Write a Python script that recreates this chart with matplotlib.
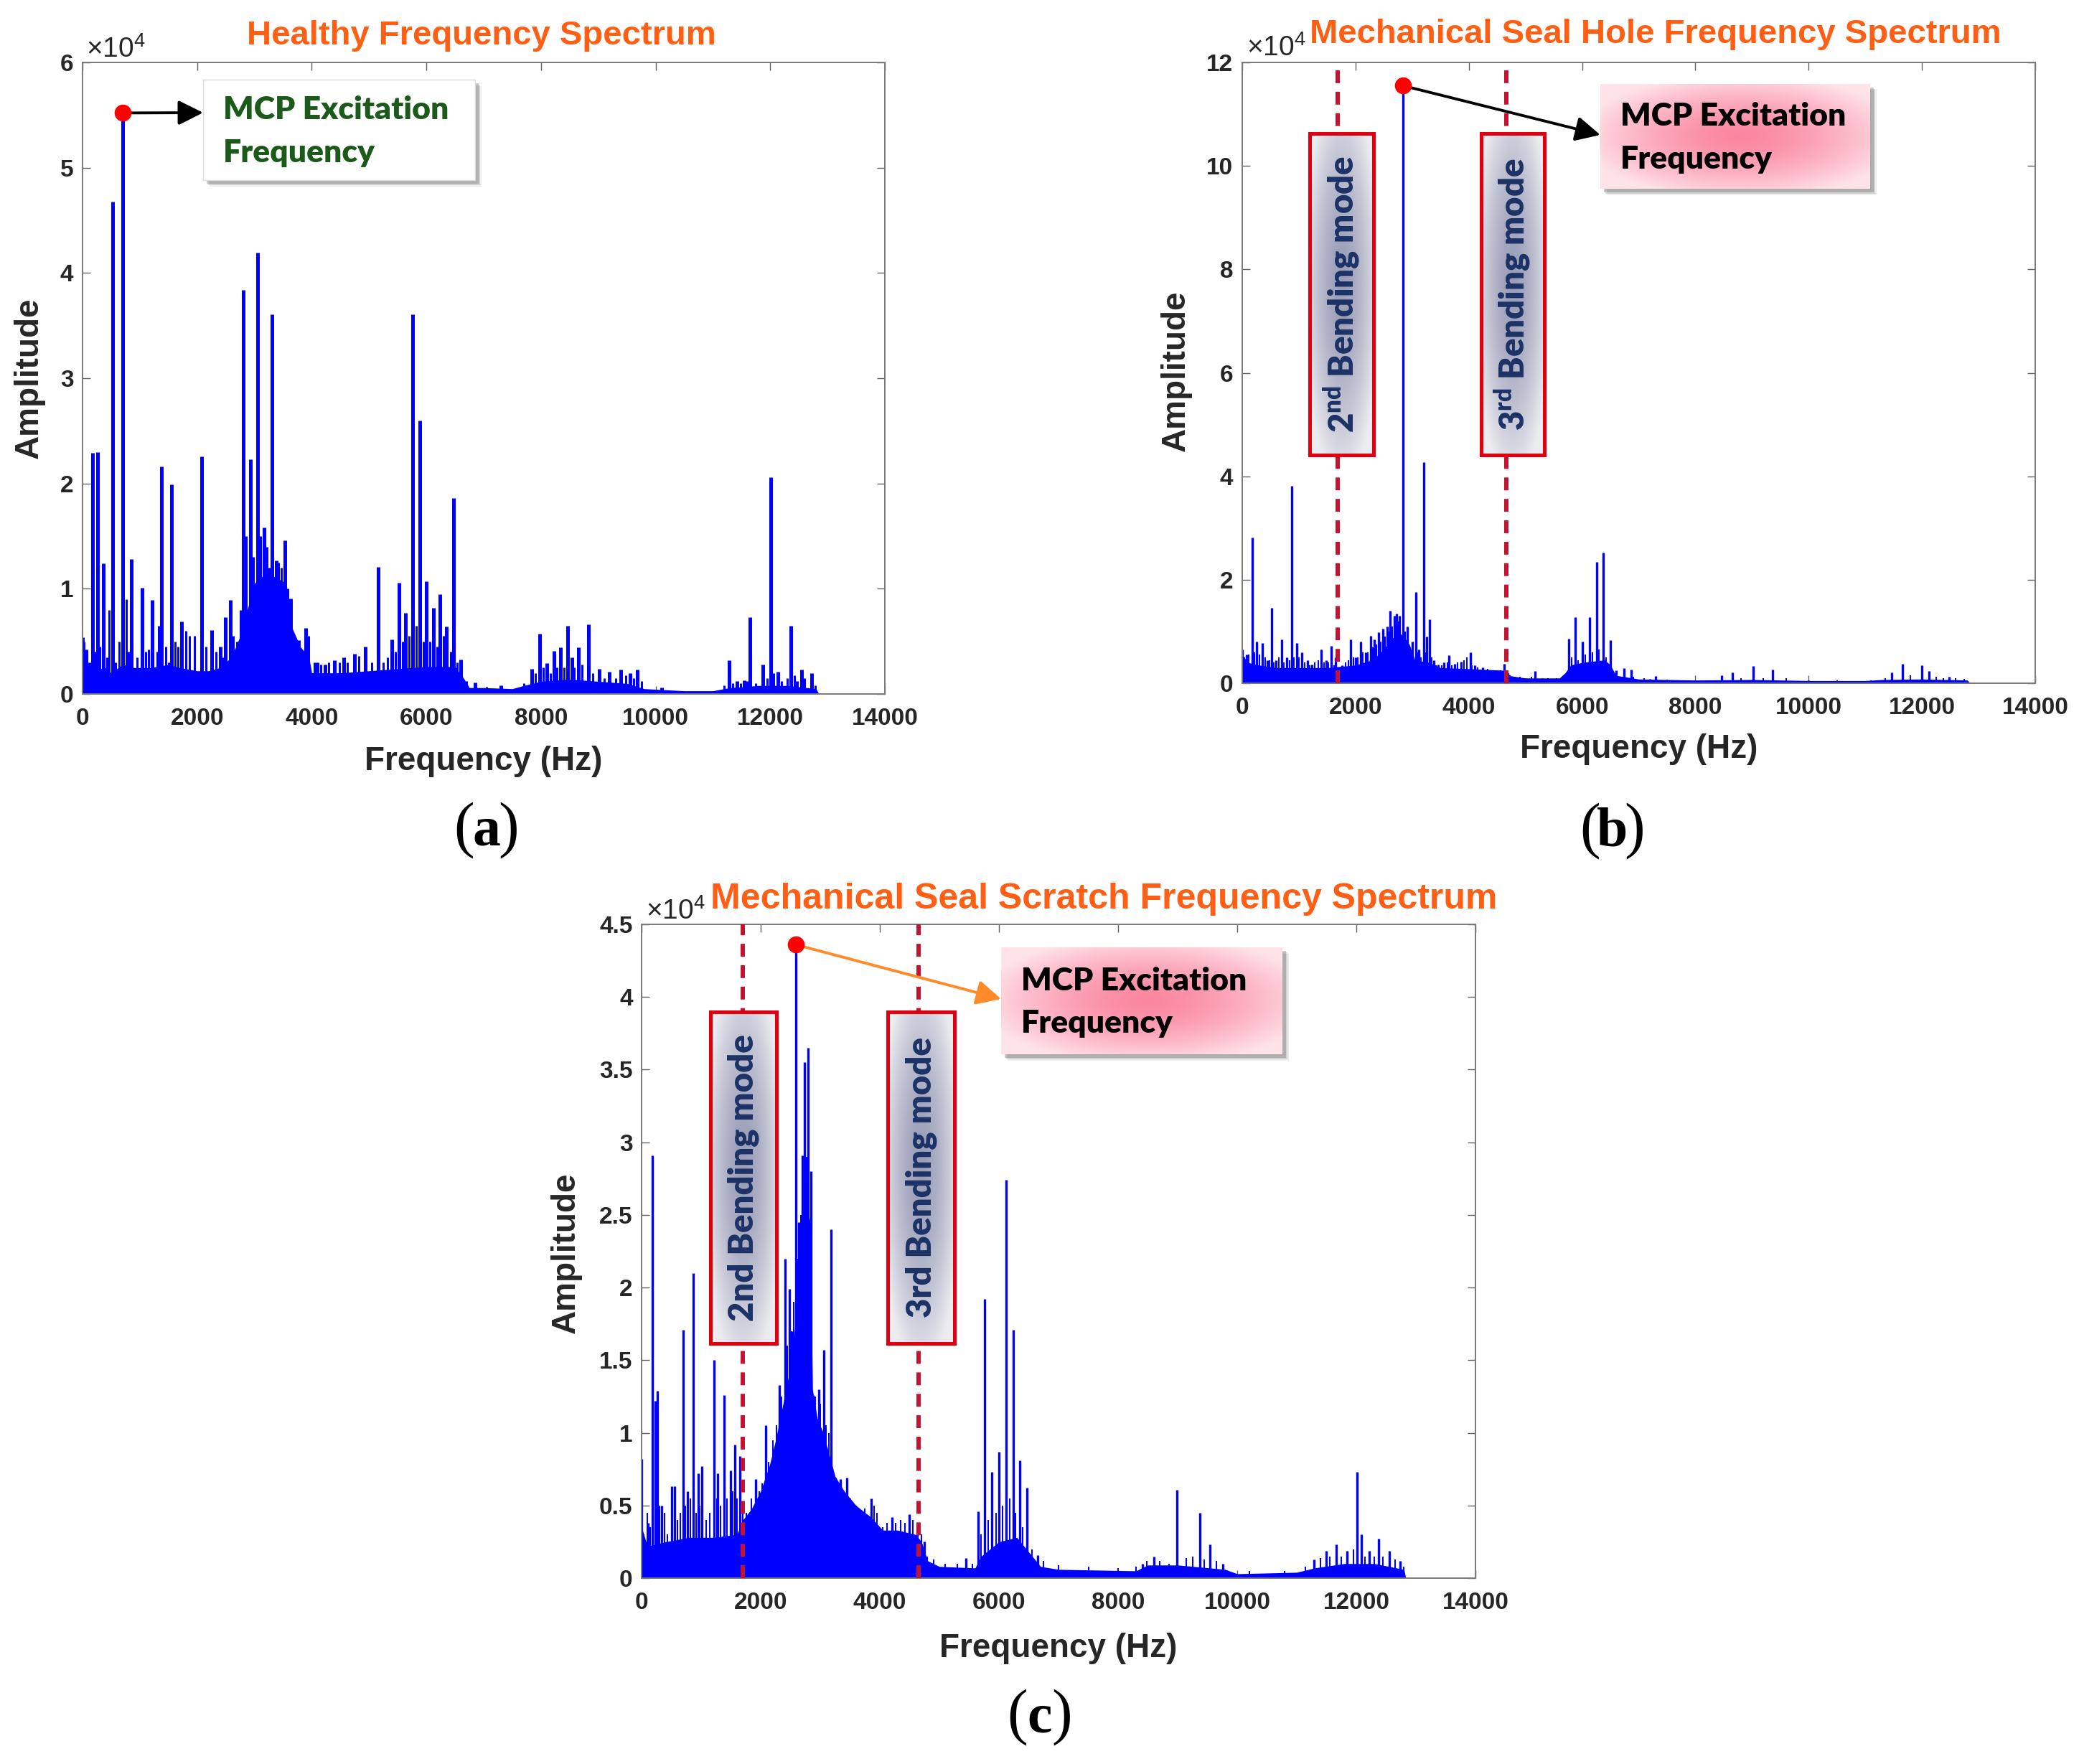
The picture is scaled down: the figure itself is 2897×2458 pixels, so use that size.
import numpy as np
import matplotlib
matplotlib.use("Agg")
import matplotlib.pyplot as plt
from matplotlib.patches import Rectangle

plt.rcParams['mathtext.fontset'] = 'custom'
plt.rcParams['mathtext.rm'] = 'Liberation Sans'
plt.rcParams['mathtext.bf'] = 'Lato:heavy'

# ---------------- data (amplitudes in units of 1e4) ----------------
x_ticks = [0, 2000, 4000, 6000, 8000, 10000, 12000, 14000]
x_tick_labels = ["0", "2000", "4000", "6000", "8000", "10000", "12000", "14000"]

a_yticks = [0, 1, 2, 3, 4, 5, 6]
a_ytick_labels = ["0", "1", "2", "3", "4", "5", "6"]
b_yticks = [0, 2, 4, 6, 8, 10, 12]
b_ytick_labels = ["0", "2", "4", "6", "8", "10", "12"]
c_yticks = [0, 0.5, 1, 1.5, 2, 2.5, 3, 3.5, 4, 4.5]
c_ytick_labels = ["0", "0.5", "1", "1.5", "2", "2.5", "3", "3.5", "4", "4.5"]

titles = ["Healthy Frequency Spectrum",
          "Mechanical Seal Hole Frequency Spectrum",
          "Mechanical Seal Scratch Frequency Spectrum"]
panel_letters = ["a", "b", "c"]
x_label = "Frequency (Hz)"
y_label = "Amplitude"
mcp_lines = ["MCP Excitation", "Frequency"]
b_bend_labels = [r"$\mathbf{2^{nd}}$ Bending mode", r"$\mathbf{3^{rd}}$ Bending mode"]
c_bend_labels = ["2nd Bending mode", "3rd Bending mode"]

# --- panel (a): healthy ---
a_peak_f = [0, 60, 177, 260, 363, 520, 696, 852, 1038, 1215, 1381, 1558, 1734, 2077, 2253, 2409,
            2492, 2575, 2700, 2804, 2928, 3053, 3167, 3302, 3375, 3531, 3634, 3770, 3894, 4100,
            4230, 4400, 4560, 4740, 4933, 5161, 5400, 5524, 5639, 5763, 5888, 6002, 6127, 6241,
            6355, 6480, 6604, 6854, 7300, 7840, 7975, 8100, 8224, 8339, 8463, 8536, 8650, 8826,
            9013, 9190, 9398, 9560, 9678, 10100, 11288, 11420, 11540, 11640, 11869, 12004, 12129,
            12357, 12460, 12544, 12721]
a_peak_a = [0.54, 0.42, 2.29, 2.30, 1.24, 4.68, 5.52, 1.28, 1.01, 0.89, 2.16, 1.99, 0.69, 2.26, 0.61, 0.45,
            0.73, 0.89, 0.50, 3.84, 2.23, 4.19, 1.58, 3.61, 1.27, 1.46, 0.91, 0.51, 0.63, 0.30,
            0.28, 0.32, 0.35, 0.38, 0.45, 1.21, 0.52, 1.06, 0.77, 3.61, 2.60, 1.07, 0.82, 0.95,
            0.64, 1.86, 0.33, 0.11, 0.08, 0.24, 0.57, 0.29, 0.41, 0.44, 0.65, 0.35, 0.44, 0.66,
            0.24, 0.21, 0.23, 0.20, 0.23, 0.06, 0.32, 0.12, 0.13, 0.73, 0.28, 2.06, 0.21,
            0.65, 0.12, 0.23, 0.20]
a_minor_f = [30, 120, 220, 300, 420, 460, 580, 640, 760, 800, 950, 1100, 1150, 1300, 1330, 1450, 1500,
             1620, 1660, 1800, 1860, 1950, 2150, 2330, 2450, 2630, 2760, 2860, 2980, 3100, 3220, 3260,
             3420, 3470, 3580, 3700, 3830, 3950, 4050, 4160, 4300, 4480, 4620, 4820, 5050, 5250, 5320,
             5460, 5580, 5700, 5820, 5950, 6060, 6180, 6300, 6420, 6540, 6700, 7050, 7700, 7900, 8040,
             8160, 8280, 8400, 8580, 8720, 8900, 9100, 9300, 9480, 9620, 9750, 11200, 11350, 11480,
             11600, 11750, 11950, 12060, 12200, 12300, 12420, 12600, 12780]
a_minor_a = [0.50, 0.30, 0.40, 0.45, 0.35, 0.80, 0.30, 0.50, 0.90, 0.40, 0.35, 0.40, 0.42, 0.40, 0.65, 0.45, 0.30,
             0.50, 0.45, 0.60, 0.55, 0.55, 0.45, 0.40, 0.35, 0.55, 0.80, 1.50, 1.30, 1.50, 1.40, 1.20,
             1.25, 1.20, 1.00, 0.45, 0.35, 0.55, 0.30, 0.28, 0.30, 0.30, 0.30, 0.36, 0.30, 0.30, 0.35,
             0.40, 0.50, 0.55, 0.65, 0.50, 0.50, 0.45, 0.55, 0.40, 0.30, 0.12, 0.07, 0.10, 0.20, 0.25,
             0.20, 0.25, 0.25, 0.25, 0.28, 0.20, 0.15, 0.15, 0.18, 0.15, 0.12, 0.08, 0.10, 0.10,
             0.12, 0.10, 0.15, 0.20, 0.12, 0.15, 0.18, 0.15, 0.08]
a_floor_f = [0, 100, 150, 400, 500, 700, 900, 1200, 1500, 1700, 2000, 2200, 2400, 2600, 2750, 2900,
             3000, 3200, 3400, 3550, 3600, 3800, 3950, 4000, 4500, 5000, 5500, 6000, 6500, 6650, 6750,
             7000, 7500, 7700, 8000, 8500, 9000, 9500, 9800, 10500, 11000, 11300, 11800, 12300, 12800, 12850]
a_floor_a = [0.45, 0.30, 0.22, 0.25, 0.20, 0.28, 0.25, 0.25, 0.28, 0.25, 0.22, 0.22, 0.25, 0.35, 0.55, 0.85,
             1.05, 1.15, 1.10, 1.05, 0.70, 0.45, 0.35, 0.20, 0.20, 0.22, 0.24, 0.26, 0.26, 0.15, 0.06,
             0.06, 0.05, 0.08, 0.12, 0.14, 0.12, 0.10, 0.05, 0.03, 0.03, 0.06, 0.08, 0.08, 0.05, 0.0]
a_exc = (696, 5.52)

# --- panel (b): seal hole ---
b_peak_f = [0, 80, 174, 250, 360, 440, 523, 600, 697, 790, 871, 959, 1046, 1150, 1231, 1394, 1480, 1568,
            1650, 1760, 1917, 2000, 2092, 2180, 2266, 2330, 2407, 2484, 2560, 2614, 2680, 2723, 2780,
            2840, 2919, 3000, 3070, 3120, 3200, 3250, 3310, 3380, 3464, 3560, 3650, 3750, 3860, 4030,
            4100, 4250, 4400, 4620, 4800, 5000, 5170, 5300, 5770, 5885, 6010, 6130, 6255, 6370, 6495,
            6600, 6740, 6864, 7200, 7300, 8000, 8460, 8650, 9020, 9368, 10000, 11470, 11655, 11993,
            12124, 12484]
b_peak_a = [0.65, 0.55, 2.81, 0.80, 0.77, 0.45, 1.45, 0.45, 0.85, 0.50, 3.81, 0.77, 0.60, 0.45, 0.36, 0.65, 0.45, 0.72,
            0.50, 0.35, 0.85, 0.50, 0.80, 0.60, 0.92, 0.85, 0.99, 1.06, 1.10, 1.40, 1.30, 1.34, 1.30,
            11.55, 1.09, 0.80, 1.76, 0.65, 4.27, 0.90, 1.23, 0.45, 0.36, 0.40, 0.54, 0.38, 0.42, 0.60,
            0.35, 0.30, 0.25, 0.37, 0.12, 0.10, 0.23, 0.10, 0.86, 1.27, 0.81, 1.27, 2.34, 2.53, 0.83,
            0.25, 0.29, 0.26, 0.08, 0.14, 0.06, 0.15, 0.21, 0.33, 0.26, 0.05, 0.21, 0.37, 0.34,
            0.24, 0.12]
b_minor_f = [40, 120, 210, 300, 400, 480, 560, 640, 740, 830, 910, 1000, 1100, 1190, 1280, 1340, 1440,
             1520, 1620, 1700, 1820, 1870, 1960, 2040, 2130, 2220, 2300, 2370, 2440, 2520, 2590, 2650,
             2750, 2880, 2960, 3090, 3150, 3230, 3350, 3420, 3520, 3620, 3700, 3800, 3920, 3960, 4060,
             4160, 4330, 4480, 4560, 4700, 4900, 5100, 5400, 5550, 5680, 5820, 5930, 6060, 6180, 6300,
             6420, 6550, 6900, 7100, 7500, 8200, 8800, 9200, 9600, 10500, 11100, 11350, 11800, 12250,
             12380, 12600, 12750]
b_minor_a = [0.50, 0.55, 0.60, 0.55, 0.50, 0.45, 0.40, 0.50, 0.40, 0.45, 0.50, 0.50, 0.40, 0.35, 0.40, 0.45, 0.40,
             0.40, 0.35, 0.30, 0.40, 0.45, 0.50, 0.50, 0.60, 0.60, 0.70, 0.75, 0.80, 0.90, 1.00, 1.10,
             1.20, 1.00, 0.70, 0.60, 0.50, 0.60, 0.50, 0.35, 0.35, 0.40, 0.35, 0.40, 0.45, 0.50, 0.35,
             0.30, 0.28, 0.25, 0.25, 0.20, 0.12, 0.12, 0.10, 0.10, 0.12, 0.50, 0.45, 0.55, 0.60, 0.65,
             0.50, 0.20, 0.12, 0.10, 0.07, 0.06, 0.10, 0.10, 0.10, 0.05, 0.06, 0.10, 0.15, 0.12,
             0.10, 0.10, 0.08]
b_floor_f = [0, 100, 300, 600, 1000, 1500, 2000, 2300, 2450, 2600, 2750, 2850, 2950, 3050, 3300, 3500,
             4000, 4600, 4750, 5000, 5600, 5700, 5800, 6000, 6400, 6500, 6600, 7000, 8000, 9000,
             10000, 11000, 11300, 12000, 12800, 12850]
b_floor_a = [0.55, 0.40, 0.35, 0.30, 0.30, 0.30, 0.35, 0.45, 0.60, 0.80, 1.00, 0.90, 0.75, 0.45, 0.40, 0.30,
             0.28, 0.25, 0.14, 0.10, 0.10, 0.20, 0.35, 0.40, 0.45, 0.35, 0.15, 0.08, 0.06, 0.07,
             0.05, 0.05, 0.07, 0.08, 0.06, 0.0]
b_exc = (2840, 11.55)
b_bend_f = [1685, 4662]

# --- panel (c): seal scratch ---
c_peak_f = [0, 65, 108, 183, 226, 269, 334, 500, 549, 700, 775, 870, 950, 1018, 1217, 1280, 1385, 1490,
            1563, 1648, 1910, 2083, 2308, 2415, 2478, 2540, 2590, 2638, 2698, 2740, 2797, 2844,
            2885, 2972, 3065, 3185, 3251, 3338, 3448, 3669, 3850, 4200, 4490, 4630, 4745, 5450,
            5645, 5760, 5885, 6000, 6120, 6236, 6352, 6475, 6650, 8410, 8600, 8990, 9369, 9541, 9757,
            11286, 11490, 11663, 11846, 12018, 12083, 12212, 12373, 12556, 12739]
c_peak_a = [0.82, 0.23, 0.38, 2.91, 1.22, 1.29, 0.50, 0.63, 0.63, 1.71, 0.60, 2.10, 0.72, 0.77, 1.50, 0.72, 1.26, 0.74,
            0.92, 0.84, 0.68, 1.05, 1.33, 2.20, 1.99, 1.70, 4.36, 2.45, 2.91, 3.55, 3.65, 2.80,
            1.26, 1.30, 1.57, 2.40, 0.69, 0.68, 0.69, 0.45, 0.55, 0.42, 0.44, 0.36, 0.25, 0.14,
            0.46, 1.92, 0.73, 0.87, 2.74, 1.71, 0.81, 0.62, 0.16, 0.10, 0.15, 0.61, 0.45, 0.23, 0.10,
            0.13, 0.19, 0.23, 0.19, 0.73, 0.30, 0.19, 0.27, 0.19, 0.12]
c_minor_f = [40, 100, 140, 300, 380, 430, 600, 650, 740, 820, 910, 980, 1080, 1150, 1260, 1330, 1430, 1530,
             1600, 1700, 1760, 1840, 1980, 2030, 2130, 2200, 2260, 2350, 2450, 2520, 2560, 2620, 2680,
             2720, 2770, 2820, 2860, 2920, 3000, 3100, 3140, 3220, 3300, 3400, 3500, 3560, 3600, 3750,
             3900, 3950, 4050, 4120, 4260, 4350, 4420, 4560, 4700, 4800, 4900, 5100, 5300, 5550, 5700,
             5820, 5950, 6060, 6180, 6280, 6400, 6550, 6750, 7000, 7500, 8000, 8300, 8480, 8700, 8850,
             9150, 9250, 9450, 9650, 10200, 10800, 11150, 11400, 11550, 11750, 11950, 12150, 12300,
             12450, 12650, 12800]
c_minor_a = [0.30, 0.45, 0.35, 0.50, 0.45, 0.30, 0.40, 0.45, 0.50, 0.55, 0.45, 0.50, 0.40, 0.45, 0.55, 0.50, 0.55, 0.60,
             0.55, 0.45, 0.45, 0.55, 0.60, 0.65, 0.80, 0.95, 1.05, 1.25, 1.60, 1.70, 1.90, 2.20, 2.50,
             2.70, 2.90, 2.40, 2.00, 1.25, 1.20, 1.05, 1.00, 0.70, 0.65, 0.60, 0.55, 0.50, 0.50, 0.48,
             0.50, 0.45, 0.35, 0.38, 0.38, 0.40, 0.38, 0.40, 0.30, 0.15, 0.13, 0.10, 0.10, 0.10, 0.30,
             0.40, 0.45, 0.50, 0.55, 0.45, 0.35, 0.20, 0.12, 0.09, 0.08, 0.07, 0.08, 0.12, 0.12, 0.10,
             0.14, 0.15, 0.13, 0.12, 0.05, 0.05, 0.08, 0.14, 0.15, 0.15, 0.20, 0.15, 0.15,
             0.15, 0.13, 0.08]
c_floor_f = [0, 100, 400, 800, 1200, 1600, 1700, 1850, 2000, 2150, 2250, 2350, 2450, 2550, 2620, 2700,
             2780, 2830, 2870, 2950, 3050, 3150, 3250, 3400, 3600, 3850, 4050, 4300, 4600, 4700, 4800,
             5000, 5600, 5700, 6000, 6300, 6500, 6700, 7000, 8300, 8500, 9000, 9800, 10000, 11000,
             11300, 11800, 12300, 12800, 12830]
c_floor_a = [0.35, 0.22, 0.25, 0.28, 0.28, 0.30, 0.40, 0.48, 0.60, 0.78, 0.95, 1.15, 1.35, 1.60, 2.00, 2.35,
             2.55, 2.45, 1.30, 1.10, 1.00, 0.85, 0.70, 0.60, 0.50, 0.42, 0.33, 0.33, 0.30, 0.25, 0.12,
             0.08, 0.07, 0.15, 0.25, 0.28, 0.18, 0.08, 0.06, 0.05, 0.09, 0.09, 0.06, 0.03, 0.04,
             0.07, 0.10, 0.10, 0.06, 0.0]
c_exc = (2590, 4.36)
c_bend_f = [1699, 4650]

# ---------------- layout / style ----------------
W, H = 2897, 2458
BLUE = '#0000FF'
ORANGE_T = '#FF5F15'
DARK = '#262626'
SANS = 'Liberation Sans'


def px_rect(x0, y0, x1, y1):
    return [x0 / W, 1 - y1 / H, (x1 - x0) / W, (y1 - y0) / H]


def fxy(x, y):
    return (x / W, 1 - y / H)


fig = plt.figure(figsize=(W / 100, H / 100), dpi=100)
fig.patch.set_facecolor('white')


def setup_axes(rect, ymax, yticks, ylabels):
    ax = fig.add_axes(px_rect(*rect))
    ax.set_xlim(0, 14000)
    ax.set_ylim(0, ymax)
    ax.set_xticks(x_ticks)
    ax.set_xticklabels(x_tick_labels)
    ax.set_yticks(yticks)
    ax.set_yticklabels(ylabels)
    ax.tick_params(direction='in', top=True, right=True, length=8, width=1.0,
                   color='#606060', labelsize=24, labelcolor=DARK)
    ax.tick_params(axis='x', pad=14)
    ax.tick_params(axis='y', pad=9)
    for lab in ax.get_xticklabels() + ax.get_yticklabels():
        lab.set_fontweight('bold')
        lab.set_fontfamily(SANS)
    for s in ax.spines.values():
        s.set_color('#7a7a7a')
        s.set_linewidth(1.4)
    return ax


def draw_spectrum(ax, ff, fa, mf, ma, pf, pa, lw):
    ax.fill_between(ff, 0, fa, color=BLUE, lw=0, zorder=2)
    ax.vlines(mf, 0, ma, color=BLUE, lw=lw * 0.6, zorder=2)
    ax.vlines(pf, 0, pa, color=BLUE, lw=lw, zorder=2)


def grad_img(c_center, c_edge, cx=0.5, cy=0.5, power=1.0, rx=0.55, ry=0.55):
    n = 160
    yy, xx = np.mgrid[0:1:n * 1j, 0:1:n * 1j]
    r = np.sqrt(((xx - cx) / rx) ** 2 + ((yy - cy) / ry) ** 2)
    t = np.clip(r, 0, 1) ** power
    c0 = np.array(matplotlib.colors.to_rgb(c_center))
    c1 = np.array(matplotlib.colors.to_rgb(c_edge))
    return c0[None, None, :] * (1 - t[..., None]) + c1[None, None, :] * t[..., None]


def box_axes(rect, img=None, face='white', edge='#d0d0d0', elw=1.0, shadow=False):
    x0, y0, x1, y1 = rect
    if shadow:
        for k, al in [(9, 0.10), (7, 0.18), (5, 0.30)]:
            fig.patches.append(Rectangle(fxy(x0 + k, y1 + k), (x1 - x0) / W, (y1 - y0) / H,
                                         transform=fig.transFigure, facecolor='#5a5a5a',
                                         edgecolor='none', alpha=al, zorder=4))
    bax = fig.add_axes(px_rect(*rect), zorder=5)
    bax.set_facecolor(face)
    if img is not None:
        bax.imshow(img, extent=[0, 1, 0, 1], aspect='auto', interpolation='bilinear')
    bax.set_xlim(0, 1)
    bax.set_ylim(0, 1)
    bax.set_xticks([])
    bax.set_yticks([])
    for s in bax.spines.values():
        s.set_color(edge)
        s.set_linewidth(elw)
    return bax


def mcp_text(bax, rect, color):
    x0, y0, x1, y1 = rect
    w, h = x1 - x0, y1 - y0
    for i, line in enumerate(mcp_lines):
        yb = h / 2 + (-30 if i == 0 else 30) + 15
        bax.text(28 / w, 1 - yb / h, line, transform=bax.transAxes, ha='left', va='baseline',
                 fontsize=32, fontweight='heavy', family='Lato', color=color)


def bend_box(rect, label):
    bax = box_axes(rect, img=grad_img('#9a9eb7', '#ececf1', 0.5, 0.47, 1.6, 0.6, 0.62),
                   edge='#E00010', elw=3.6)
    bax.text(0.5, 0.5, label, transform=bax.transAxes, rotation=90, ha='center', va='center',
             fontsize=34, fontweight='heavy', family='Lato', color='#1c3266')


def labels(title, tsize, tcenter, x10pos, ylpos, xlpos, tagpos, letter):
    fig.text(*fxy(*tcenter), title, ha='center', va='center', fontsize=tsize, fontweight='bold',
             family=SANS, color=ORANGE_T)
    fig.text(*fxy(*x10pos), r'$\times10^{4}$', ha='left', va='baseline', fontsize=28, color=DARK)
    fig.text(*fxy(*ylpos), y_label, rotation=90, ha='center', va='center', fontsize=33,
             fontweight='bold', family=SANS, color=DARK)
    fig.text(*fxy(*xlpos), x_label, ha='center', va='center', fontsize=33,
             fontweight='bold', family=SANS, color=DARK)
    tx, ty = tagpos
    fig.text(*fxy(tx - 31, ty), '(', ha='center', va='center', fontsize=62,
             family='Liberation Serif', color='black')
    fig.text(*fxy(tx, ty + 2), letter, ha='center', va='center', fontsize=56, fontweight='bold',
             family='Liberation Serif', color='black')
    fig.text(*fxy(tx + 31, ty), ')', ha='center', va='center', fontsize=62,
             family='Liberation Serif', color='black')


def excitation(ax, exc, end_px, color):
    ax.annotate('', xy=fxy(*end_px), xycoords='figure fraction', xytext=exc, textcoords='data',
                arrowprops=dict(arrowstyle='-|>,head_length=0.7,head_width=0.35', color=color,
                                lw=2.8, shrinkA=0, shrinkB=0, mutation_scale=30),
                annotation_clip=False, zorder=4)
    ax.plot([exc[0]], [exc[1]], 'o', color='#FF0000', ms=17, mec='none', zorder=6, clip_on=False)


PINK = grad_img('#fb86a0', '#ffe3e9', 0.52, 0.5, 1.5, 0.6, 0.6)

# ---------------- panel (a) ----------------
rect_a = (115, 87, 1233, 967)
ax_a = setup_axes(rect_a, 6, a_yticks, a_ytick_labels)
draw_spectrum(ax_a, a_floor_f, a_floor_a, a_minor_f, a_minor_a, a_peak_f, a_peak_a, 3.6)
excitation(ax_a, a_exc, (283, 157), 'black')
mcp_a = (283, 111, 662, 251)
bx = box_axes(mcp_a, face='white', edge='#dcdcdc', elw=1.0, shadow=True)
mcp_text(bx, mcp_a, '#1b5a1b')
labels(titles[0], 34, (671, 50), (120, 80), (41, 527), (674, 1061), (678, 1157), panel_letters[0])

# ---------------- panel (b) ----------------
rect_b = (1731, 87, 2836, 952)
ax_b = setup_axes(rect_b, 12, b_yticks, b_ytick_labels)
draw_spectrum(ax_b, b_floor_f, b_floor_a, b_minor_f, b_minor_a, b_peak_f, b_peak_a, 2.4)
for f in b_bend_f:
    ax_b.axvline(f, color='#C41230', lw=4.3, dashes=(3, 2), zorder=3)
excitation(ax_b, b_exc, (2230, 188), 'black')
for r, lab in zip([(1825, 186, 1914, 634), (2064, 186, 2152, 634)], b_bend_labels):
    bend_box(r, lab)
mcp_b = (2230, 117, 2606, 263)
bx = box_axes(mcp_b, img=PINK, edge='none', elw=0, shadow=True)
mcp_text(bx, mcp_b, 'black')
labels(titles[1], 34, (2307, 48), (1737, 78), (1639, 517), (2284, 1044), (2247, 1158), panel_letters[1])

# ---------------- panel (c) ----------------
rect_c = (894, 1288, 2056, 2199)
ax_c = setup_axes(rect_c, 4.5, c_yticks, c_ytick_labels)
draw_spectrum(ax_c, c_floor_f, c_floor_a, c_minor_f, c_minor_a, c_peak_f, c_peak_a, 2.4)
for f in c_bend_f:
    ax_c.axvline(f, color='#C41230', lw=4.3, dashes=(3, 2), zorder=3)
excitation(ax_c, c_exc, (1395, 1392), '#FF8A2A')
for r, lab in zip([(990, 1410, 1082, 1872), (1237, 1410, 1330, 1872)], c_bend_labels):
    bend_box(r, lab)
mcp_c = (1395, 1320, 1787, 1469)
bx = box_axes(mcp_c, img=PINK, edge='none', elw=0, shadow=True)
mcp_text(bx, mcp_c, 'black')
labels(titles[2], 36, (1538, 1253), (900, 1281), (789, 1746), (1475, 2297), (1449, 2393), panel_letters[2])

fig.savefig('out.png', dpi=100, facecolor='white')
